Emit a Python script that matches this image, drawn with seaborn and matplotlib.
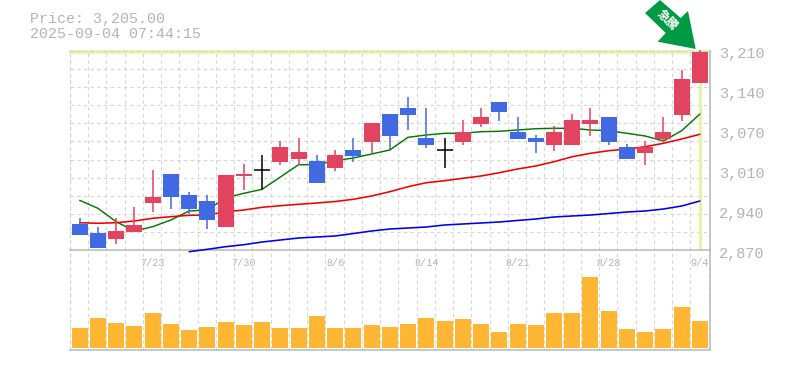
import numpy as np
import pandas as pd
import matplotlib
matplotlib.use("Agg")
import matplotlib.pyplot as plt
from matplotlib.patches import Polygon
import seaborn as sns

dates_tick_idx = [4, 9, 14, 19, 24, 29, 34]
date_labels = ["7/23", "7/30", "8/6", "8/14", "8/21", "8/28", "9/4"]
price_ticks = [3210, 3142, 3074, 3006, 2938, 2870]
price_labels = ["3,210", "3,140", "3,070", "3,010", "2,940", "2,870"]

opens = [2912.6, 2897.3, 2887.1, 2899.0, 2948.3, 2997.6, 2961.9, 2951.7, 2907.5, 2994.2, 3004.4,
         3018.0, 3023.1, 3019.7, 3007.8, 3038.4, 3052.0, 3099.6, 3109.8, 3058.8, 3038.4,
         3052.0, 3082.6, 3120.0, 3069.0, 3058.8, 3046.9, 3046.9, 3082.6, 3094.5, 3043.5,
         3033.3, 3057.1, 3097.9, 3152.3]
closes = [2893.9, 2871.8, 2900.7, 2910.9, 2958.5, 2958.5, 2938.1, 2919.4, 2995.9, 2997.6, 3004.4,
          3043.5, 3035.0, 2982.3, 3029.9, 3028.2, 3084.3, 3062.2, 3097.9, 3046.9, 3038.4,
          3069.0, 3094.5, 3103.0, 3057.1, 3052.0, 3069.0, 3089.4, 3089.4, 3052.0, 3023.1,
          3043.5, 3069.0, 3159.1, 3205.0]
highs = [2922.8, 2907.5, 2922.8, 2941.5, 3004.4, 2997.6, 2967.0, 2961.9, 2995.9, 3014.6, 3029.9,
         3053.7, 3058.8, 3029.9, 3038.4, 3058.8, 3084.3, 3099.6, 3128.5, 3109.8, 3058.8,
         3089.4, 3109.8, 3120.0, 3094.5, 3063.9, 3079.2, 3099.6, 3109.8, 3094.5, 3048.6,
         3053.7, 3094.5, 3174.4, 3208.4]
lows = [2893.9, 2871.8, 2878.6, 2899.0, 2933.0, 2938.1, 2929.6, 2904.1, 2907.5, 2970.4, 2970.4,
        3012.9, 3012.9, 2982.3, 3002.7, 3018.0, 3033.3, 3040.1, 3072.4, 3041.8, 3007.8,
        3046.9, 3077.5, 3087.7, 3057.1, 3033.3, 3036.7, 3052.0, 3062.2, 3046.9, 3023.1,
        3012.9, 3052.0, 3087.7, 3152.3]
ma_short = [2952.9, 2939.3, 2916.5, 2900.7, 2908.0, 2919.4, 2934.7, 2936.4, 2956.8, 2964.8, 2971.6,
            2992.5, 3013.4, 3013.4, 3020.2, 3024.8, 3031.6, 3038.4, 3060.0, 3063.9, 3066.8,
            3066.8, 3069.5, 3070.2, 3072.4, 3074.6, 3075.3, 3075.3, 3072.4, 3071.2, 3066.8,
            3062.2, 3053.7, 3071.2, 3099.6]
ma_mid = [2914.8, 2913.8, 2914.8, 2917.7, 2922.3, 2925.0, 2927.4, 2927.9, 2933.5, 2936.4, 2941.0,
          2943.7, 2946.1, 2948.3, 2950.8, 2954.6, 2960.2, 2967.5, 2976.0, 2982.8, 2986.2,
          2990.3, 2994.2, 2999.8, 3006.1, 3011.2, 3018.5, 3027.0, 3032.8, 3037.2, 3040.1,
          3044.0, 3049.8, 3057.1, 3065.1]
ma_long = [2865.5, 2869.6, 2874.0, 2877.4, 2882.0, 2885.4, 2888.8, 2890.5, 2892.2, 2896.4, 2900.7,
           2904.1, 2905.8, 2907.5, 2910.9, 2912.6, 2914.3, 2916.0, 2918.6, 2921.1, 2924.5,
           2926.2, 2927.9, 2930.4, 2933.0, 2934.7, 2938.1, 2943.2, 2951.7]
volume = [20, 30, 25, 22, 35, 24, 18, 21, 26, 23, 26, 20, 20, 32, 20, 20, 23, 21,
          24, 30, 27, 29, 24, 16, 24, 23, 35, 35, 71, 37, 19, 16, 19, 41, 27]

UP, DOWN, DOJI = "#e2435f", "#4169e1", "#000000"
GRID, AXIS, TXT = "#d4d4d4", "#bdbdbd", "#b4b4b4"
MONO = "Liberation Mono"
DASH = (0, (3, 3))

W, H = 785, 370
sns.set_theme(style="white")
fig = plt.figure(figsize=(W / 100, H / 100), dpi=100, facecolor="white")
L, R = 70, 709.6
T, M, B = 51, 250, 349.5
ax = fig.add_axes([L / W, 1 - M / H, (R - L) / W, (M - T) / H])
av = fig.add_axes([L / W, 1 - B / H, (R - L) / W, (B - M) / H])

idx = np.arange(len(opens))
xlim = (-0.53, 34.53)
grid_x = np.arange(36) - 0.53
o, c, h, l = map(np.array, (opens, closes, highs, lows))
colors = np.where(c > o, UP, np.where(c < o, DOWN, DOJI))
body_w = 0.877

# candles, drawn over the moving averages
ax.vlines(idx, l, h, colors=colors, lw=1.1, zorder=4, clip_on=False)
mask = c != o
ax.bar(idx[mask], np.abs(c - o)[mask], bottom=np.minimum(o, c)[mask], width=body_w,
       color=colors[mask], zorder=5, linewidth=0, clip_on=False)
for i in idx[~mask]:
    ax.hlines(o[i], i - body_w / 2, i + body_w / 2, colors=DOJI, lw=1.1, zorder=5)

# moving averages
ma = pd.DataFrame({"i": idx, "s": ma_short, "m": ma_mid})
sns.lineplot(data=ma, x="i", y="s", ax=ax, color="#007a00", lw=1.05, zorder=3, clip_on=False)
sns.lineplot(data=ma, x="i", y="m", ax=ax, color="#f00000", lw=1.15, zorder=3, clip_on=False)
sns.lineplot(x=idx[6:], y=ma_long, ax=ax, color="#0000e6", lw=1.15, zorder=3, clip_on=False)

# last-price crosshair
ax.axhline(closes[-1], color="#e4f5a8", lw=2.6, zorder=2, clip_on=False)
ax.axvline(idx[-1], color="#e4f5a8", lw=2.2, zorder=2)

# scales
ax.set_xlim(xlim)
y_top, y_bot = 3206.7, 2868.4
ax.set_ylim(y_bot, y_top)
ax.set_xlabel(""); ax.set_ylabel("")
ax.set_xticks(dates_tick_idx)
ax.set_xticklabels(date_labels, family=MONO, fontsize=7.3, color=TXT)
ax.set_xticks(grid_x, minor=True)
ax.set_yticks(np.linspace(y_bot, y_top, 12)[1:-1], minor=True)
ax.set_yticks([])
ax.tick_params(axis="x", which="major", length=0, pad=5.5)
ax.tick_params(which="minor", length=0)
ax.grid(False)
ax.grid(which="minor", color=GRID, ls=DASH, lw=0.8, zorder=0)
ax.set_axisbelow(True)
for s in ("left", "top"):
    ax.spines[s].set(color=GRID, ls=DASH, lw=0.8)
ax.spines["bottom"].set(color=AXIS, lw=1.2)
ax.spines["right"].set(color=AXIS, lw=1.2)
ax.patch.set_alpha(0)

for v, t in zip(price_ticks, price_labels):
    ax.annotate(t, xy=(1, v), xycoords=ax.get_yaxis_transform(), xytext=(9, -5),
                textcoords="offset pixels", family=MONO, fontsize=11, color=TXT,
                va="center", ha="left", annotation_clip=False)

# volume
sns.barplot(x=idx, y=volume, ax=av, native_scale=True, width=body_w, color="#ffb733",
            saturation=1, linewidth=0, zorder=3)
av.set_xlim(xlim)
av.set_ylim(-1.5, 98)
av.set_xlabel(""); av.set_ylabel("")
av.set_yticks([])
av.set_xticks([])
av.set_xticks(grid_x, minor=True)
av.tick_params(which="minor", length=0, labelbottom=False)
av.grid(False)
av.grid(axis="x", which="minor", color=GRID, ls=DASH, lw=0.8, zorder=0)
av.set_axisbelow(True)
av.spines["top"].set_visible(False)
av.spines["left"].set(color=GRID, ls=DASH, lw=0.8)
av.spines["bottom"].set(color=AXIS, lw=1.2)
av.spines["right"].set(color=AXIS, lw=1.2)
av.patch.set_alpha(0)

# header
fig.text(30 / W, 1 - 19 / H, "Price: 3,205.00", family=MONO, fontsize=10.8, color=TXT, va="center")
fig.text(30 / W, 1 - 34 / H, "2025-09-04 07:44:15", family=MONO, fontsize=10.8, color=TXT, va="center")

# signal arrow
arrow_px = [(645, 13), (660, 0), (680.7, 18), (688, 11), (695.7, 49), (657.7, 41.7), (665.7, 33)]
fig.add_artist(Polygon([(x / W, 1 - y / H) for x, y in arrow_px], closed=True,
                       transform=fig.transFigure, facecolor="#009a44", edgecolor="none", zorder=10))
fig.text(667 / W, 1 - 20.5 / H, "急騰", family=["Noto Sans CJK JP", "DejaVu Sans"], fontsize=8.5,
         color="white", weight="bold", rotation=-45, ha="center", va="center",
         rotation_mode="anchor", zorder=11)

fig.savefig("out.png", dpi=100, facecolor="white")
